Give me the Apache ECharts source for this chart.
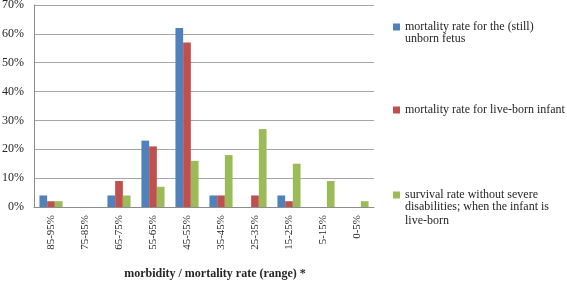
<!DOCTYPE html>
<html>
<head>
<meta charset="utf-8">
<script src="https://cdn.jsdelivr.net/npm/echarts@6/dist/echarts.min.js"></script>
<style>
  html, body { margin: 0; padding: 0; background: #fff; }
  #chart { width: 567px; height: 282px; }
</style>
</head>
<body>
<div id="chart"></div>
<script>
const categories = ['85-95%', '75-85%', '65-75%', '55-65%', '45-55%', '35-45%', '25-35%', '15-25%', '5-15%', '0-5%'];
const fetusMortality = [4, 0, 4, 23, 62, 4, 0, 4, 0, 0];
const infantMortality = [2, 0, 9, 21, 57, 4, 4, 2, 0, 0];
const survivalNoDisability = [2, 0, 4, 7, 16, 18, 27, 15, 9, 2];
// legend texts, one entry per printed line
const seriesLines = [
  ['mortality rate for the (still)', 'unborn fetus'],
  ['mortality rate for live-born infant'],
  ['survival rate without severe', 'disabilities; when the infant is', 'live-born']
];
const seriesNames = seriesLines.map(l => l.join(' '));
const yTicks = [0, 10, 20, 30, 40, 50, 60, 70];

const font = '"Liberation Serif", "DejaVu Serif", serif';
const textColor = '#262626';
const legendLeft = 393;
const legendTops = [21, 104, 189];
const lineH = 14;
const chart = echarts.init(document.getElementById('chart'));

// one legend per series so each can sit at its own height;
// the legend shows the first line, the rest are plain text below it
const legends = seriesNames.map((name, i) => ({
  data: [name],
  left: legendLeft,
  top: legendTops[i],
  itemWidth: 7,
  itemHeight: 7,
  itemGap: 0,
  padding: 0,
  icon: 'rect',
  formatter: () => seriesLines[i][0],
  textStyle: { fontFamily: font, fontSize: 12, color: textColor }
}));

const extraLines = [];
seriesLines.forEach((lines, i) => {
  lines.slice(1).forEach((t, j) => {
    extraLines.push({
      type: 'text',
      left: legendLeft + 12,
      top: legendTops[i] + (j + 1) * lineH - 2,
      style: { text: t, font: '12px ' + font, fill: textColor }
    });
  });
});

const options = {
  animation: false,
  backgroundColor: '#fff',
  color: ['#4F81BD', '#C0504D', '#9BBB59'],
  grid: {
    left: 34,
    right: 193,
    top: 5,
    bottom: 75,
    outerBoundsMode: 'none'
  },
  legend: legends,
  graphic: extraLines,
  xAxis: {
    type: 'category',
    data: categories,
    axisLine: { lineStyle: { color: '#8c8c8c' } },
    axisTick: { show: false },
    axisLabel: {
      rotate: 90,
      margin: 8,
      fontFamily: font,
      fontSize: 11,
      color: textColor
    },
    name: 'morbidity / mortality rate (range) *',
    nameLocation: 'middle',
    nameGap: 61,
    nameTextStyle: {
      fontFamily: font,
      fontSize: 12,
      fontWeight: 'bold',
      color: textColor,
      padding: [0, 0, 0, 22]
    }
  },
  yAxis: {
    type: 'value',
    min: yTicks[0],
    max: yTicks[yTicks.length - 1],
    interval: 10,
    axisLine: { show: true, lineStyle: { color: '#8c8c8c' } },
    axisTick: { show: false },
    splitLine: { lineStyle: { color: '#a6a6a6' } },
    axisLabel: {
      margin: 10,
      fontFamily: font,
      fontSize: 12,
      color: textColor,
      formatter: (v) => v + '%'
    }
  },
  series: [
    { type: 'bar', name: seriesNames[0], data: fetusMortality, barGap: 0, barCategoryGap: '32%' },
    { type: 'bar', name: seriesNames[1], data: infantMortality, barGap: 0, barCategoryGap: '32%' },
    { type: 'bar', name: seriesNames[2], data: survivalNoDisability, barGap: 0, barCategoryGap: '32%' }
  ]
};
chart.setOption(options);
</script>
</body>
</html>
